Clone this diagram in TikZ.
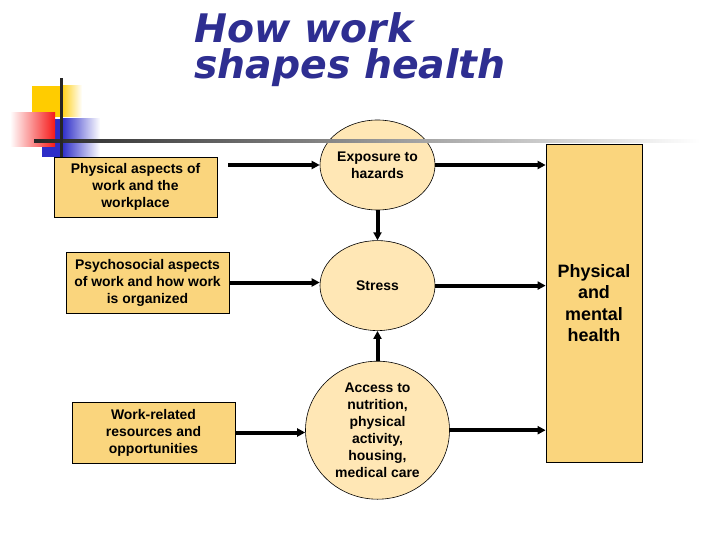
\documentclass[tikz,border=0pt]{standalone}
\usepackage{fontspec}
\setmainfont{Liberation Sans}
\newfontfamily\titlefont{DejaVu Sans}[BoldItalicFont={DejaVu Sans Bold Oblique}]
\usepackage{tikz}
\usetikzlibrary{positioning,shapes.geometric,arrows.meta}
\definecolor{boxfill}{RGB}{250,213,125}
\definecolor{ellfill}{RGB}{255,231,181}
\definecolor{titleblue}{RGB}{46,46,145}
\definecolor{decoyellow}{RGB}{255,204,0}
\definecolor{decored}{RGB}{245,25,25}
\definecolor{decoblue}{RGB}{45,45,200}
\tikzset{
	>={Triangle[length=8bp,width=8bp]},
	dedge/.style={arrows=->, black, line width=4bp},
}
\tikzstyle{frect} = [rectangle, draw=black, line width=0.7bp, fill=boxfill, inner sep=0, align=center, font=\fontsize{14}{17}\selectfont\bfseries]
\tikzstyle{fell} = [ellipse, draw=black, line width=0.6bp, fill=ellfill, inner sep=0, minimum width=115bp, minimum height=90bp, node distance=30bp, align=center, font=\fontsize{14}{17}\selectfont\bfseries]

\begin{document}
\begin{tikzpicture}[x=1bp,y=-1bp]
	\useasboundingbox (0,0) rectangle (720,540);
	\node[anchor=north west, inner sep=0, align=left, text=titleblue, font=\titlefont\bfseries\itshape\fontsize{39.5}{37}\selectfont] (title) at (194,12) {How work\\shapes health};
	
	\node[frect, minimum width=163bp, minimum height=60bp] (b1) at (135.5,187) {Physical aspects of\\work and the\\workplace};
	\node[frect, minimum width=163bp, minimum height=61bp] (b2) at (147.5,282.5) {Psychosocial aspects\\of work and how work\\is organized};
	\node[frect, minimum width=163bp, minimum height=61bp] (b3) at (153.5,432.5) {Work-related\\resources and\\opportunities};
	
	\node[fell] (e1) at (377.5,165) {Exposure to\\hazards};
	\node[fell] (e2) [below=of e1] {Stress};
	\node[fell, minimum width=144bp, minimum height=138bp] (e3) [below=of e2] {Access to\\nutrition,\\physical\\activity,\\housing,\\medical care};
	
	\node[frect, minimum width=96bp, minimum height=318bp, font=\fontsize{18}{21.6}\selectfont\bfseries] (hb) at (594,303) {Physical\\and\\mental\\health};
	
	\path (b1.east |- e1.west) edge [dedge, shorten <=11bp] (e1.west);
	\foreach \i in {2,3}
	\path (b\i.east) edge [dedge] (b\i.east -| e\i.west);
	\foreach \i in {1,2,3}
	\path (e\i.east) edge [dedge] (e\i.east -| hb.west);
	\path (e1) edge [dedge] (e2);
	\path (e3) edge [dedge] (e2);
	
	% corner squares and rules
	\fill[decoyellow] (32,86) rectangle (60,117);
	\shade[left color=decoyellow, right color=white] (60,86) rectangle (82,117);
	\fill[decoblue] (42,119) rectangle (62,157);
	\shade[left color=decoblue, right color=white] (62,119) rectangle (100,157);
	\shade[left color=white, right color=decored] (10,113) rectangle (55,147);
	\shade[left color=black!85, right color=white] (34,139.5) rectangle (700,142.5);
	\fill[black!85] (59.5,78) rectangle (62.5,157);
\end{tikzpicture}
\end{document}
